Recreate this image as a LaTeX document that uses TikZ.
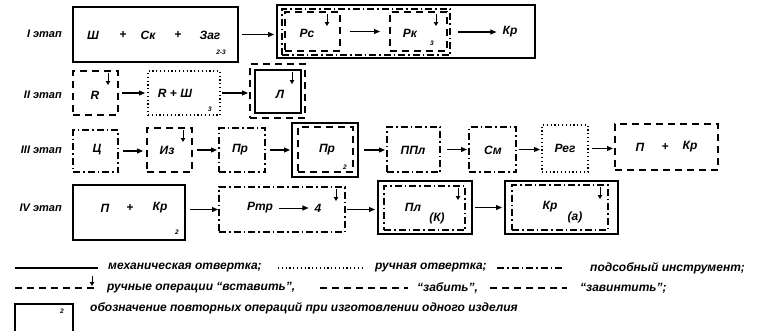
\documentclass[tikz,border=0pt]{standalone}
\usepackage{fontspec}
\setmainfont{Liberation Sans}
\usetikzlibrary{arrows.meta,calc}
\newcommand\bx[6]{\node[#2,minimum width={#5-#3},minimum height={#6-#4},inner sep=0pt,outer sep=0pt] (#1) at ({(#3+#5)/2},{(#4+#6)/2}) {};}
\begin{document}
\begin{tikzpicture}[x=1pt,y=-1pt,
  solidb/.style={draw,line width=1.1pt},
  dotb/.style={draw,line width=1.2pt,dash pattern=on 1.2pt off 2.6pt},
  ddb/.style={draw,line width=1.1pt,dash pattern=on 7pt off 3pt on 1.5pt off 3pt},
  dashb/.style={draw,line width=1.1pt,dash pattern=on 7pt off 5pt},
  arr/.style={line width=1.1pt,-{Triangle[length=6pt,width=5pt]}},
  ins/.style={line width=1pt,-{Triangle[length=4pt,width=4.5pt]}},
  txt/.style={font=\bfseries\itshape\fontsize{12}{13}\selectfont,inner sep=0pt},
  lab/.style={font=\bfseries\itshape\fontsize{11}{12}\selectfont,inner sep=0pt,anchor=east},
  sub/.style={font=\bfseries\itshape\fontsize{6.5}{7}\selectfont,inner sep=0pt},
  leg/.style={font=\bfseries\itshape\fontsize{12}{13}\selectfont,inner sep=0pt,anchor=west},
]
\useasboundingbox (0,0) rectangle (766,330);
% ---------- Row I
\node[lab] (l1) at (62,34) {I этап};
\bx{b1}{solidb}{73}{7}{238}{62}
\node[txt] (t1a) at (93,35) {Ш};
\node[txt] (t1b) at (123,35) {+};
\node[txt] (t1c) at (148,35) {Ск};
\node[txt] (t1d) at (178,35) {+};
\node[txt] (t1e) at (210,35) {Заг};
\node[sub] (s1) at (221,52) {2-3};
\bx{o1}{solidb}{277}{5}{535}{58}
\bx{i1}{ddb}{282}{9}{450}{55}
\bx{pc}{dashb}{285}{12}{340}{51}
\node[txt] (tpc) at (307,33) {Рс};
\draw[ins] (327,14) -- (327,26);
\bx{pk}{dashb}{390}{12}{447}{51}
\node[txt] (tpk) at (410,33) {Рк};
\draw[ins] (436,14) -- (436,26);
\node[sub] (s1b) at (432,43) {3};
\node[txt] (kp1) at (510,32) {Кр};
\draw[arr,shorten <=4pt,shorten >=3pt] (b1.east) -- (b1.east -| o1.west);
\draw[arr,shorten <=10pt,shorten >=10pt] (pc.east) -- (pk.west);
\draw[arr,shorten <=8pt,shorten >=6pt] (i1.east) -- (i1.east -| kp1.west);
% ---------- Row II
\node[lab] (l2) at (62,95) {II этап};
\bx{r}{dashb}{73}{71}{118}{115}
\node[txt] (tr) at (95,95) {R};
\draw[ins] (108,73) -- (108,85);
\bx{rs}{dotb}{148}{71}{220}{115}
\node[txt] (trs) at (175,93) {R + Ш};
\node[sub] (s2) at (210,109) {3};
\bx{lo}{dashb}{250}{64}{305}{118}
\bx{li}{solidb}{255}{70}{301}{113}
\node[txt] (tl) at (280,94) {Л};
\draw[ins] (292,72) -- (292,84);
\draw[arr,shorten <=4pt,shorten >=3pt] (r.east) -- (rs.west);
\draw[arr,shorten <=2pt,shorten >=2pt] (rs.east) -- (rs.east -| lo.west);
% ---------- Row III
\node[lab] (l3) at (62,150) {III этап};
\bx{c}{ddb}{73}{130}{118}{172}
\node[txt] (tc) at (97,150) {Ц};
\bx{iz}{dashb}{147}{128}{192}{172}
\node[txt] (tiz) at (167,150) {Из};
\draw[ins] (183,130) -- (183,142);
\bx{pr}{ddb}{219}{128}{265}{172}
\node[txt] (tpr) at (240,150) {Пр};
\bx{pro}{solidb}{292}{123}{358}{177}
\bx{pri}{dashb}{298}{127}{353}{172}
\node[txt] (tpr2) at (327,150) {Пр};
\node[sub] (s3) at (345,167) {2};
\bx{ppl}{ddb}{387}{127}{440}{172}
\node[txt] (tppl) at (413,150) {ППл};
\bx{sm}{ddb}{469}{127}{516}{172}
\node[txt] (tsm) at (493,150) {См};
\bx{reg}{dotb}{542}{125}{588}{172}
\node[txt] (treg) at (565,148) {Рег};
\bx{pk3}{dashb}{615}{124}{718}{170}
\node[txt] (t3a) at (640,147) {П};
\node[txt] (t3b) at (665,147) {+};
\node[txt] (t3c) at (690,147) {Кр};
\draw[arr,shorten <=5pt,shorten >=4pt] (c.east) -- (c.east -| iz.west);
\draw[arr,shorten <=5pt,shorten >=2pt] (iz.east) -- (pr.west);
\draw[arr,shorten <=5pt,shorten >=2pt] (pr.east) -- (pr.east -| pro.west);
\draw[arr,shorten <=6pt,shorten >=2pt] (pro.east) -- (pro.east -| ppl.west);
\draw[arr,shorten <=7pt,shorten >=2pt] (ppl.east) -- (ppl.east -| sm.west);
\draw[arr,shorten <=3pt,shorten >=2pt] (sm.east) -- (sm.east -| reg.west);
\draw[arr,shorten <=4pt,shorten >=2pt] (reg.east) -- (reg.east -| pk3.west);
% ---------- Row IV
\node[lab] (l4) at (62,208) {IV этап};
\bx{b4}{solidb}{73}{185}{185}{240}
\node[txt] (t4a) at (105,208) {П};
\node[txt] (t4b) at (130,208) {+};
\node[txt] (t4c) at (160,208) {Кр};
\node[sub] (s4) at (177,232) {2};
\bx{rtr}{ddb}{219}{187}{345}{232}
\node[txt] (trtr) at (260,208) {Ртр};
\node[txt] (t4) at (318,208) {4};
\draw[arr,line width=0.9pt,shorten <=6pt,shorten >=6pt] (trtr.east) -- (t4.west);
\draw[ins] (336,189) -- (336,201);
\bx{plo}{solidb}{378}{181}{472}{234}
\bx{pli}{ddb}{384}{186}{465}{230}
\node[txt] (tpl) at (413,207) {Пл};
\node[txt] (tk) at (437,218) {(К)};
\draw[ins] (458,188) -- (458,200);
\bx{kro}{solidb}{505}{181}{618}{234}
\bx{kri}{ddb}{512}{185}{608}{230}
\node[txt] (tkr) at (550,207) {Кр};
\node[txt] (ta) at (575,217) {(а)};
\draw[ins] (600,187) -- (600,199);
\draw[arr,shorten <=5pt,shorten >=1pt] (b4.east |- rtr.east) -- (rtr.west);
\draw[arr,shorten <=2pt,shorten >=3pt] (rtr.east) -- (rtr.east -| plo.west);
\draw[arr,shorten <=3pt,shorten >=3pt] (plo.east) -- (kro.west);
% ---------- Legend
\coordinate (a1) at (15,268); \coordinate (a2) at (98,268);
\draw[line width=1.1pt] (a1) -- (a2);
\node[leg] (e1) at (108,268) {механическая отвертка;};
\coordinate (a3) at (278,268); \coordinate (a4) at (365,268);
\draw[line width=1.2pt,dash pattern=on 1.2pt off 2.6pt] (a3) -- (a4);
\node[leg] (e2) at (375,268) {ручная отвертка;};
\coordinate (a5) at (497,268); \coordinate (a6) at (565,268);
\draw[line width=1.1pt,dash pattern=on 7pt off 3pt on 1.5pt off 3pt] (a5) -- (a6);
\node[leg] (e3) at (590,268) {подсобный инструмент;};
\coordinate (c1) at (15,288); \coordinate (c2) at (98,288);
\draw[line width=1.1pt,dash pattern=on 7pt off 5pt] (c1) -- (c2);
\draw[ins] (92,276) -- (92,286);
\node[leg] (e4) at (107,288) {ручные операции “вставить”,};
\coordinate (c3) at (320,288); \coordinate (c4) at (408,288);
\draw[line width=1.1pt,dash pattern=on 7pt off 5pt] (c3) -- (c4);
\node[leg] (e5) at (417,288) {“забить”,};
\coordinate (c5) at (490,288); \coordinate (c6) at (567,288);
\draw[line width=1.1pt,dash pattern=on 7pt off 5pt] (c5) -- (c6);
\node[leg] (e6) at (580,288) {“завинтить”;};
\draw[line width=1.1pt] (15,332) -- (15,304) -- (73,304) -- (73,332);
\node[sub] (s5) at (62,311) {2};
\node[leg] (e7) at (90,308) {обозначение повторных операций при изготовлении одного изделия};
\end{tikzpicture}
\end{document}
